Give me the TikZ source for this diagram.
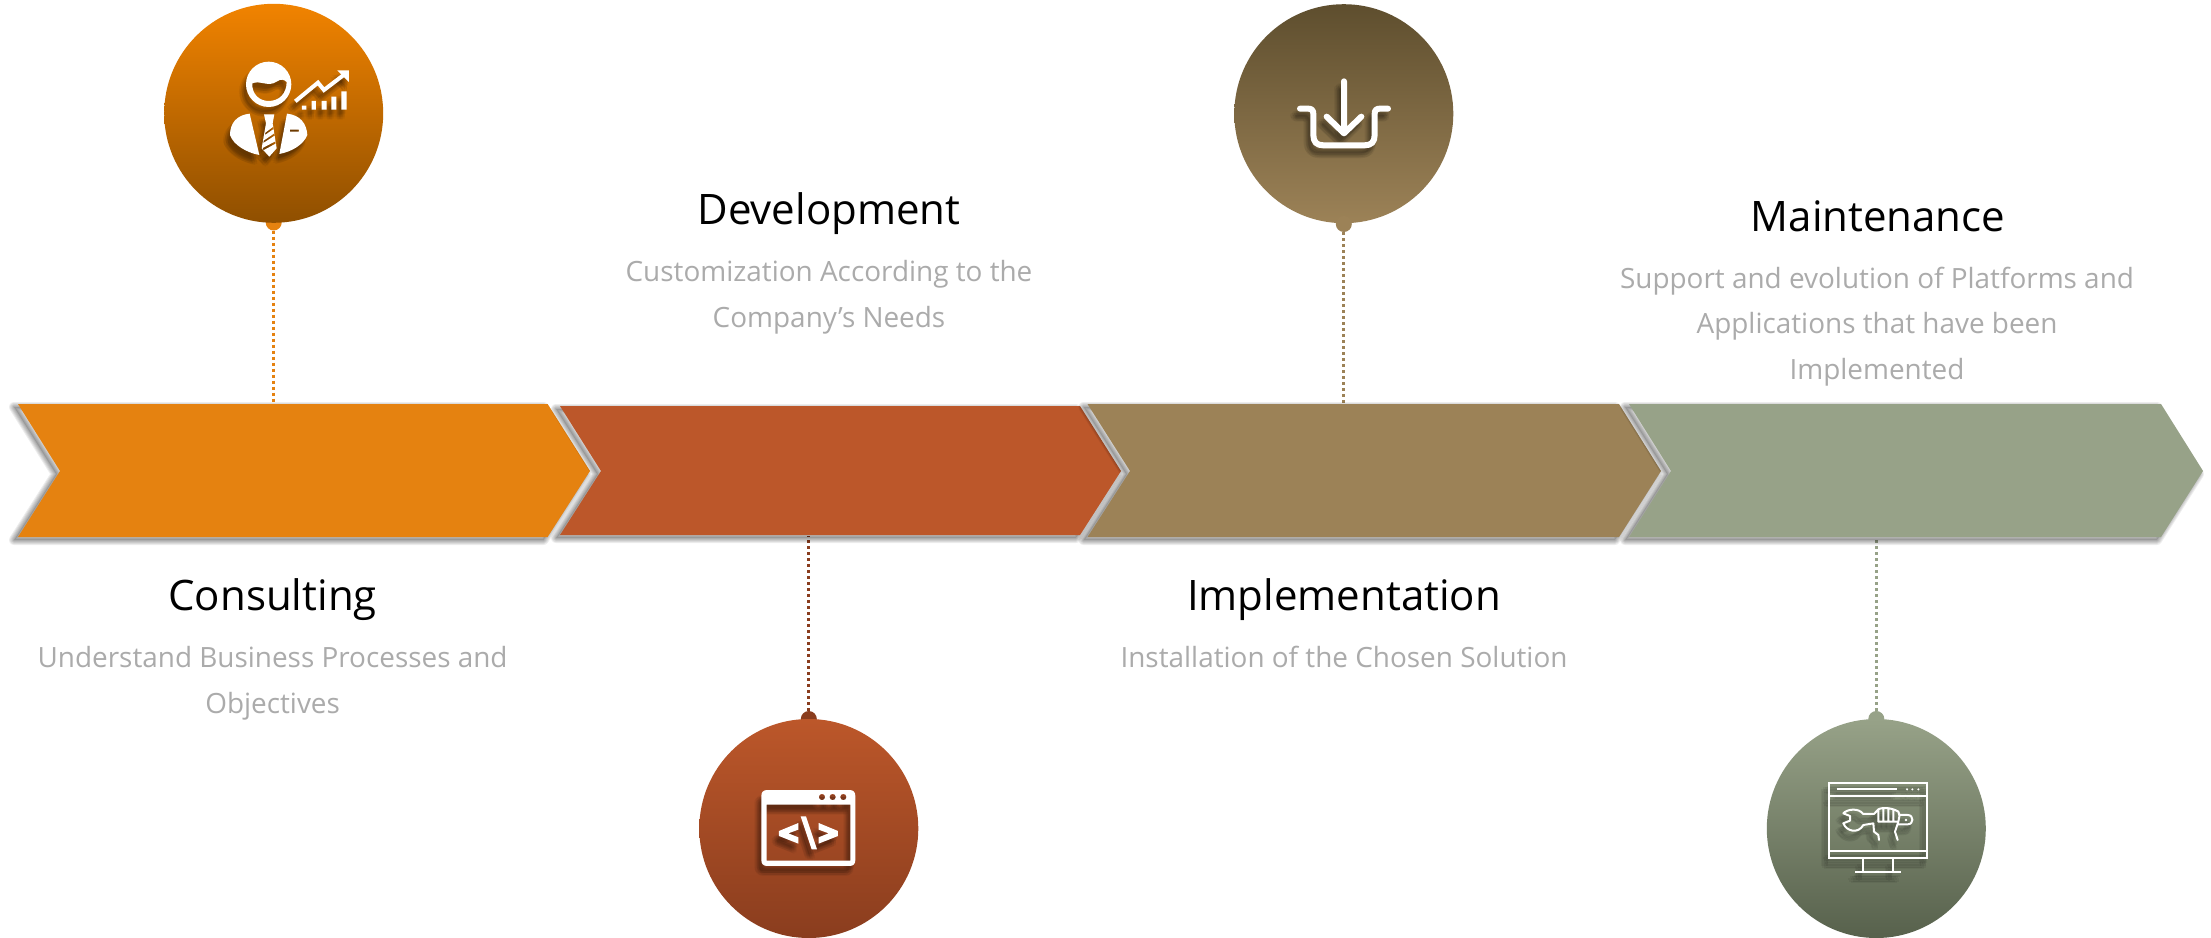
\documentclass[tikz,border=0pt]{standalone}
\usepackage{fontspec}
\setmainfont{Open Sans}
\definecolor{cOrange}{HTML}{E58210}
\definecolor{cRed}{HTML}{BC572A}
\definecolor{cTan}{HTML}{9C8257}
\definecolor{cGreen}{HTML}{97A288}
\definecolor{subGray}{HTML}{ABABAB}
\definecolor{oTop}{HTML}{F18300}
\definecolor{oBot}{HTML}{8F4F00}
\definecolor{rBot}{HTML}{8A3D1E}
\definecolor{tTop}{HTML}{5E4E2E}
\definecolor{gBot}{HTML}{57614C}
\tikzset{
  x=1pt,y=-1pt,
  anchorbox/.style={rectangle,inner sep=0pt,minimum height=130pt,minimum width=500pt,draw=none},
  bubble/.style={circle,inner sep=0pt,minimum size=219pt,draw=none},
  knob/.style={circle,inner sep=0pt,minimum size=16pt,fill=#1,draw=none},
  stem/.style={draw=#1,line width=3pt,dash pattern=on 3pt off 3pt},
  title/.style={font=\fontsize{42}{50}\selectfont,text=black,inner sep=0pt,anchor=base},
  sub/.style={font=\fontsize{27.9}{45.5}\selectfont,text=subGray,align=center,inner sep=0pt,anchor=base},
  icf/.style={fill=white,draw=none},
  ics/.style={draw=white,fill=none},
}
\newcommand{\softcopy}[2]{%
  \begin{scope}[shift={(#1)}]\begin{scope}[icf/.style={fill=black,fill opacity=.055,draw=none},ics/.style={draw=black,draw opacity=.055,fill=none}]#2\end{scope}\end{scope}}
\newcommand{\iconshadow}[1]{%
  \softcopy{-1,4}{#1}\softcopy{-3,5}{#1}\softcopy{-4,7}{#1}\softcopy{-2,7}{#1}\softcopy{-5,5}{#1}\softcopy{-2,9}{#1}\softcopy{-6,9}{#1}\softcopy{-4,10}{#1}\softcopy{-7,7}{#1}}
\newcommand{\chevshadow}[1]{%
  \foreach \w in {10,8,6,4,2}{%
    \path[draw=black,draw opacity=.07,line width=\w pt,line join=round,shift={(-4,3)}] #1;}
  \path[fill=black,fill opacity=.12,shift={(-4,3)}] #1;}
\newcommand{\iconA}{%
  \begin{scope}[shift={(140,0)},x=.3333pt,y=-.3333pt]
   \path[icf,even odd rule] (386,253) circle[radius=68]
     (337,250) .. controls (360,240) and (385,262) .. (410,245) .. controls (422,236) and (432,238) .. (440,246)
     .. controls (440,280) and (418,303) .. (386,303) .. controls (356,303) and (335,280) .. (337,250) -- cycle;
   \path[icf] (329,341) .. controls (290,345) and (270,370) .. (270,405) .. controls (280,435) and (320,458) .. (358,465) -- cycle;
   \path[icf,even odd rule] (441,341) .. controls (480,345) and (500,370) .. (502,405) .. controls (490,435) and (455,455) .. (418,462) -- cycle
     (450,389) rectangle (477,395);
   \path[icf,even odd rule] (372,343) -- (403,343) -- (398,370) -- (410,445) -- (388,470) -- (365,445) -- (378,370) -- cycle
     (376,398) -- (400,380) -- (401,387) -- (375,405) -- cycle
     (371,422) -- (403,400) -- (404,407) -- (370,429) -- cycle
     (368,444) -- (406,424) -- (407,431) -- (370,451) -- cycle;
   \path[ics,line width=4pt,line join=miter] (466,304) -- (534,248) -- (552,270) -- (615,222);
   \path[icf] (592,211) -- (627,211) -- (627,246) -- cycle;
   \path[icf] (486,317) rectangle (499,329) (515,303) rectangle (528,329) (545,303) rectangle (560,329) (574,290) rectangle (589,329) (604,274) rectangle (620,329);
  \end{scope}}
\newcommand{\iconB}{%
  \begin{scope}[shift={(680,700)},x=.3333pt,y=-.3333pt]
   \path[icf,even odd rule] (244,288) .. controls (244,276) and (250,270) .. (262,270) -- (508,270) .. controls (520,270) and (526,276) .. (526,288) -- (526,480) .. controls (526,492) and (520,498) .. (508,498) -- (262,498) .. controls (250,498) and (244,492) .. (244,480) -- cycle
     (260,314) rectangle (511,482)
     (426,291) circle[radius=9.5] (458,291) circle[radius=9.5] (490,291) circle[radius=9.5];
   \path[icf] (355,369) -- (355,389) -- (325,400) -- (355,412) -- (355,431) -- (297,408) -- (297,393) -- cycle;
   \path[icf] (416,369) -- (416,389) -- (446,400) -- (416,412) -- (416,431) -- (474,408) -- (474,393) -- cycle;
   \path[icf] (362,349) -- (378,349) -- (411,448) -- (395,448) -- cycle;
  \end{scope}}
\newcommand{\iconC}{%
  \begin{scope}[shift={(1220,0)},x=.3333pt,y=-.3333pt]
   \path[ics,line width=6pt,line cap=round,line join=round] (372,244) -- (372,398) (320,350) -- (372,400) -- (424,350);
   \path[ics,line width=6pt,line cap=round,line join=round] (240,326) -- (265,326) .. controls (276,326) and (280,332) .. (280,342) -- (280,405) .. controls (280,426) and (290,436) .. (310,436) -- (434,436) .. controls (454,436) and (464,426) .. (464,405) -- (464,342) .. controls (464,332) and (468,326) .. (479,326) -- (504,326);
  \end{scope}}
\newcommand{\iconD}{%
  \begin{scope}[shift={(1750,700)},x=.3333pt,y=-.3333pt]
   \path[ics,line width=2pt] (237,248) rectangle (532,474) (237,287) -- (532,287) (237,452) -- (532,452) (340,474) -- (340,515) (430,474) -- (430,515) (316,515) -- (452,515);
   \path[ics,line width=2pt] (260,268) -- (442,268);
   \path[icf] (471,268) circle[radius=3.5] (487,268) circle[radius=3.5] (505,268) circle[radius=3.5];
   \path[ics,line width=2pt,line join=round,line cap=round]
     (280,340) .. controls (290,328) and (325,322) .. (340,342) -- (372,342)
     (280,340) -- (300,348) -- (300,362) -- (280,370) .. controls (290,395) and (325,402) .. (340,375) -- (370,370)
     (372,342) -- (385,328) .. controls (400,320) and (430,325) .. (445,335) .. controls (450,345) and (448,355) .. (445,365) -- (385,365) -- (385,328)
     (400,325) -- (400,365) (415,325) -- (415,365) (430,328) -- (430,365)
     (448,345) -- (473,345) .. controls (492,345) and (492,373) .. (473,373) -- (445,373)
     (370,370) -- (372,395) -- (385,405) -- (387,420)
     (445,365) -- (435,395) -- (443,420);
   \path[icf] (468,360) circle[radius=4];
  \end{scope}}
\begin{document}
\begin{tikzpicture}
\useasboundingbox (0,0) rectangle (2211,937);
\fill[white] (0,0) rectangle (2211,937);

% invisible boxes naming the four chevrons
\node[anchorbox] (chevA) at (304,470.5) {};
\node[anchorbox] (chevB) at (840,470.5) {};
\node[anchorbox] (chevC) at (1374,470.5) {};
\node[anchorbox] (chevD) at (1916,470.5) {};

% knobs that sit behind their bubbles
\node[knob=cOrange] (knobA) at (273.7,222.5) {};
\node[knob=rBot] (knobB) at (808.8,719) {};
\node[knob=cGreen] (knobD) at (1876.3,719) {};

% bubbles
\node[bubble,top color=oTop,bottom color=oBot] (bubA) at (273.7,113.3) {};
\node[bubble,top color=cRed,bottom color=rBot] (bubB) at (808.8,828.5) {};
\node[bubble,top color=tTop,bottom color=cTan] (bubC) at (1343.8,113.7) {};
\node[bubble,top color=cGreen,bottom color=gBot] (bubD) at (1876.3,828.5) {};
\node[knob=cTan] (knobC) at (1343.8,224) {};

% connectors
\draw[stem=cOrange] (knobA) -- (knobA |- chevA.north);
\draw[stem=rBot] (knobB.north) -- (knobB |- chevB.south);
\draw[stem=cTan] (knobC) -- (knobC |- chevC.north);
\draw[stem=cGreen] (knobD.north) -- (knobD |- chevD.south);

% chevrons, left to right, each casting a shadow on the one before
\chevshadow{(18,404) -- (547.6,404) -- (590,471) -- (547.6,537) -- (18,537) -- (60,471) -- cycle}
\fill[cOrange] (18,404) -- (547.6,404) -- (590,471) -- (547.6,537) -- (18,537) -- (60,471) -- cycle;
\chevshadow{(560,406) -- (1080,406) -- (1121,471) -- (1080,535) -- (560,535) -- (601,471) -- cycle}
\fill[cRed] (560,406) -- (1080,406) -- (1121,471) -- (1080,535) -- (560,535) -- (601,471) -- cycle;
\chevshadow{(1087.5,404) -- (1619,404) -- (1661,471) -- (1619,537) -- (1087.5,537) -- (1130,471) -- cycle}
\fill[cTan] (1087.5,404) -- (1619,404) -- (1661,471) -- (1619,537) -- (1087.5,537) -- (1130,471) -- cycle;
\chevshadow{(1629,404) -- (2161,404) -- (2203,471) -- (2161,537) -- (1629,537) -- (1671,471) -- cycle}
\fill[cGreen] (1629,404) -- (2161,404) -- (2203,471) -- (2161,537) -- (1629,537) -- (1671,471) -- cycle;

% icons
\iconshadow{\iconA}\iconA
\iconshadow{\iconB}\iconB
\iconshadow{\iconC}\iconC
\iconshadow{\iconD}\iconD

% text
\node[title] (tA) at (272.6,610.5) {Consulting};
\node[sub] (sA) at (272.6,713) {Understand Business Processes and\\Objectives};
\node[title] (tB) at (829,224) {Development};
\node[sub] (sB) at (829,327) {Customization According to the\\Company’s Needs};
\node[title] (tC) at (1344,610.5) {Implementation};
\node[sub] (sC) at (1344,667) {Installation of the Chosen Solution};
\node[title] (tD) at (1878,231) {Maintenance};
\node[sub] (sD) at (1877,379) {Support and evolution of Platforms and\\Applications that have been\\Implemented};
\end{tikzpicture}
\end{document}
